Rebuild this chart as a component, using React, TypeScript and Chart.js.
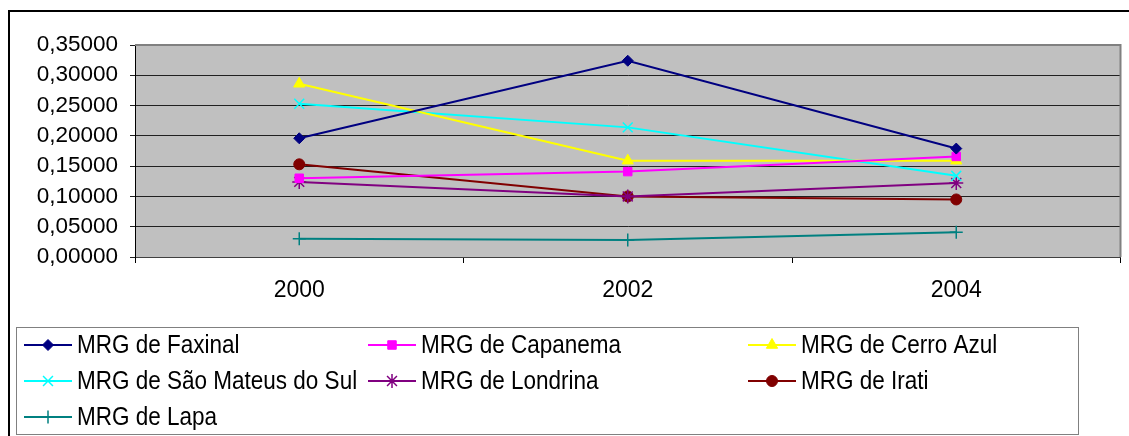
import React, { useEffect, useRef } from "react";
import { Chart, registerables } from "chart.js";
import { drawPoint } from "chart.js/helpers";

Chart.register(...registerables);

const categories = ["2000", "2002", "2004"];
const seriesLabels = [
  "MRG de Faxinal",
  "MRG de Capanema",
  "MRG de Cerro Azul",
  "MRG de São Mateus do Sul",
  "MRG de Londrina",
  "MRG de Irati",
  "MRG de Lapa",
];
const faxinal = [0.196, 0.324, 0.179];
const capanema = [0.13, 0.141, 0.166];
const cerroAzul = [0.286, 0.159, 0.159];
const saoMateus = [0.253, 0.214, 0.134];
const londrina = [0.124, 0.1, 0.122];
const irati = [0.153, 0.1, 0.095];
const lapa = [0.03, 0.028, 0.041];
const seriesColors = ["#000080", "#FF00FF", "#FFFF00", "#00FFFF", "#800080", "#800000", "#008080"];
const seriesStyles = ["rectRot", "rect", "triangle", "crossRot", "star", "circle", "cross"];
const seriesRadii = [5.5, 6, 6.5, 7, 7, 5.5, 6.5];
const yMin = 0;
const yMax = 0.35;
const yStep = 0.05;

const LEGEND_COLS = [24, 368, 748];
const LEGEND_ROWS = [345, 381, 417];

const framePlugin = {
  id: "frame",
  beforeDraw(chart: any) {
    const ctx = chart.ctx;
    const a = chart.chartArea;
    ctx.save();
    ctx.fillStyle = "#FFFFFF";
    ctx.fillRect(0, 0, chart.width, chart.height);
    ctx.strokeStyle = "#000000";
    ctx.lineWidth = 2;
    ctx.beginPath();
    ctx.moveTo(9, chart.height + 2);
    ctx.lineTo(9, 11);
    ctx.lineTo(chart.width + 2, 11);
    ctx.stroke();
    ctx.fillStyle = "#C0C0C0";
    ctx.fillRect(a.left, a.top, a.right - a.left, a.bottom - a.top);
    ctx.restore();
  },
  afterDatasetsDraw(chart: any) {
    const ctx = chart.ctx;
    const a = chart.chartArea;
    ctx.save();
    ctx.strokeStyle = "#808080";
    ctx.lineWidth = 2;
    ctx.beginPath();
    ctx.moveTo(a.left, a.top);
    ctx.lineTo(a.right, a.top);
    ctx.lineTo(a.right, a.bottom);
    ctx.stroke();
    ctx.restore();
  },
  afterDraw(chart: any) {
    const ctx = chart.ctx;
    ctx.save();
    ctx.strokeStyle = "#808080";
    ctx.lineWidth = 1;
    ctx.strokeRect(16.5, 327.5, 1062, 107);
    chart.data.datasets.forEach((ds: any, i: number) => {
      const x = LEGEND_COLS[i % 3];
      const y = LEGEND_ROWS[Math.floor(i / 3)];
      ctx.strokeStyle = ds.borderColor;
      ctx.lineWidth = 2;
      ctx.beginPath();
      ctx.moveTo(x, y);
      ctx.lineTo(x + 48, y);
      ctx.stroke();
      ctx.fillStyle = ds.pointBackgroundColor;
      ctx.strokeStyle = ds.pointBorderColor;
      ctx.lineWidth = ds.pointBorderWidth;
      drawPoint(ctx, { pointStyle: ds.pointStyle, radius: ds.pointRadius, rotation: 0, borderWidth: ds.pointBorderWidth }, x + 24, y);
      ctx.save();
      ctx.translate(x + 53, y + 1);
      ctx.scale(0.9, 1);
      ctx.fillStyle = "#000000";
      ctx.font = '25px "Liberation Sans", Arial, sans-serif';
      ctx.textBaseline = "middle";
      ctx.textAlign = "left";
      ctx.fillText(ds.label, 0, 0);
      ctx.restore();
    });
    ctx.restore();
  },
};

export default function App() {
  const ref = useRef<HTMLCanvasElement>(null);
  useEffect(() => {
    if (!ref.current) return;
    const allData = [faxinal, capanema, cerroAzul, saoMateus, londrina, irati, lapa];
    const chart = new Chart(ref.current, {
      type: "line",
      data: {
        labels: categories,
        datasets: allData.map((d, i) => {
          const filled = !["crossRot", "star", "cross"].includes(seriesStyles[i]);
          return {
            label: seriesLabels[i],
            data: d,
            borderColor: seriesColors[i],
            backgroundColor: seriesColors[i],
            pointBackgroundColor: seriesColors[i],
            pointBorderColor: seriesColors[i],
            pointStyle: seriesStyles[i],
            pointRadius: seriesRadii[i],
            pointBorderWidth: filled ? 1 : 1.5,
            borderWidth: 2,
            tension: 0,
            fill: false,
          };
        }),
      },
      options: {
        responsive: false,
        animation: false,
        layout: { padding: { top: 45, right: 7, left: 0, bottom: 0 } },
        plugins: { legend: { display: false }, tooltip: { enabled: false } },
        scales: {
          x: {
            offset: true,
            afterFit: (s: any) => {
              s.height = 436 - 257;
            },
            grid: { display: true, drawOnChartArea: false, drawTicks: true, tickLength: 6, color: "#000000", offset: true },
            border: { display: true, color: "#404040", width: 1 },
            ticks: { color: "#000000", padding: 14, font: { family: '"Liberation Sans", Arial, sans-serif', size: 23 } },
          },
          y: {
            min: yMin,
            max: yMax,
            afterFit: (s: any) => {
              s.width = 135;
            },
            grid: { color: "#202020", lineWidth: 1, tickLength: 5, drawTicks: true },
            border: { display: true, color: "#000000", width: 1 },
            ticks: {
              stepSize: yStep,
              color: "#000000",
              padding: 12,
              font: { family: '"Liberation Sans", Arial, sans-serif', size: 22.5 },
              callback: (v: any) => Number(v).toFixed(5).replace(".", ","),
            },
          },
        },
      },
      plugins: [framePlugin],
    });
    return () => chart.destroy();
  }, []);
  return (
    <div style={{ position: "fixed", left: 0, top: 0, width: 1129, height: 436 }}>
      <canvas ref={ref} width={1129} height={436} style={{ display: "block" }} />
    </div>
  );
}
